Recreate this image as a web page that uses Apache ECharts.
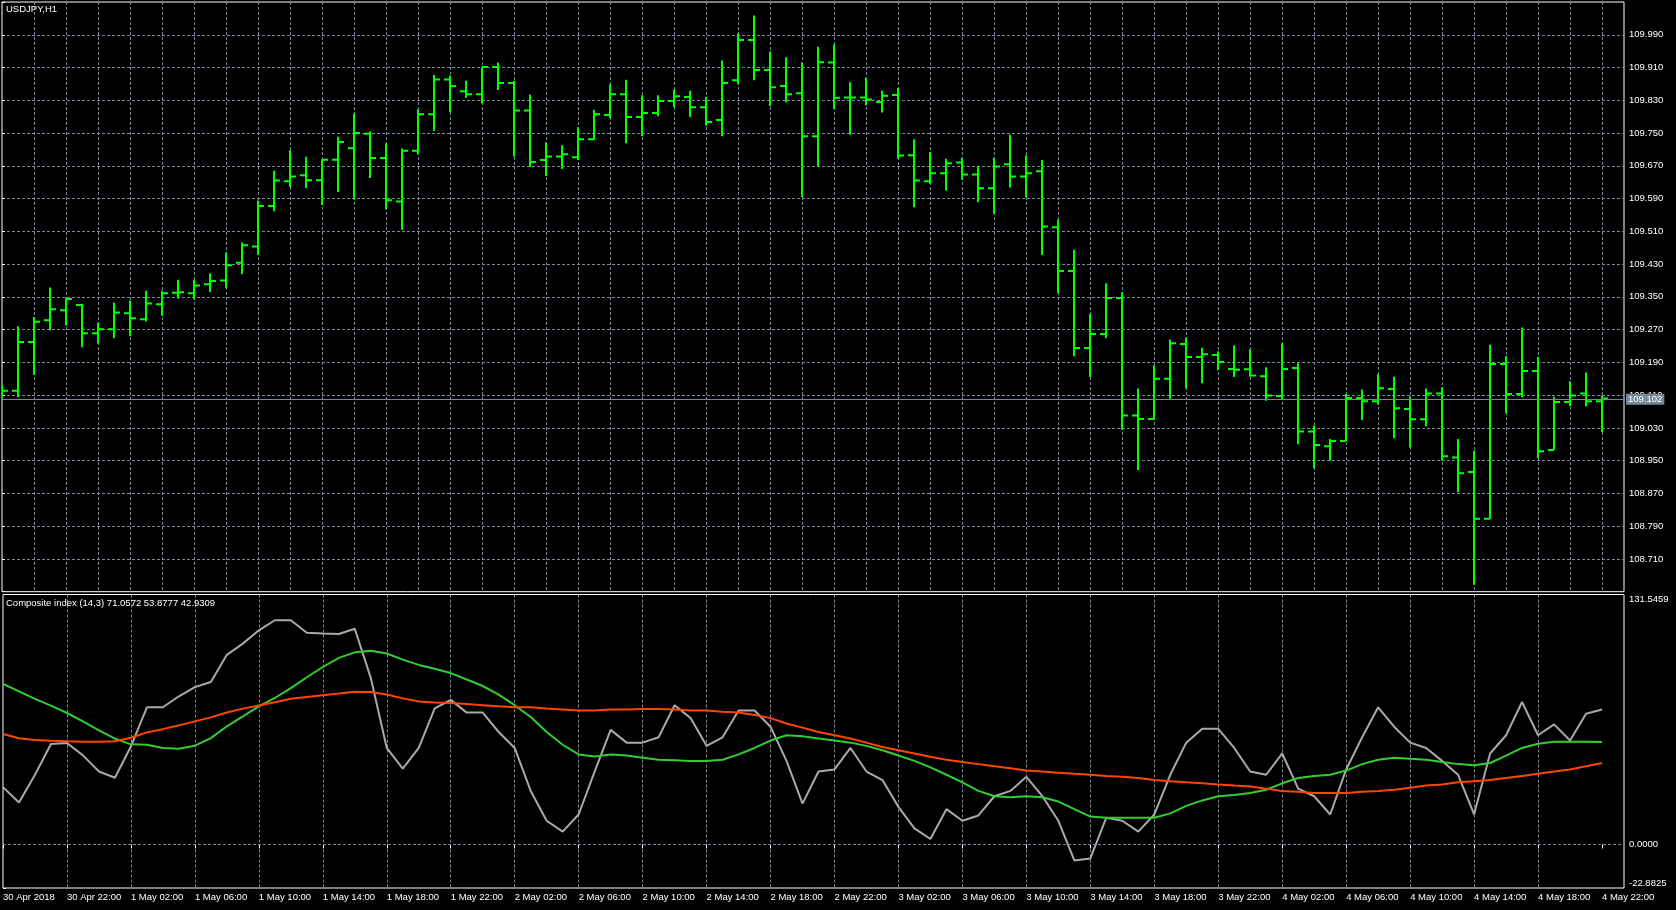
<!DOCTYPE html>
<html>
<head>
<meta charset="utf-8">
<script src="https://cdn.jsdelivr.net/npm/echarts@6/dist/echarts.min.js"></script>
<style>
html,body{margin:0;padding:0;background:#000;}
#c{width:1676px;height:910px;}
</style>
</head>
<body>
<div id="c"></div>
<script>
// ---------- DATA (USDJPY H1, one entry per hourly bar, 30 Apr 18:00 .. 4 May 22:00) ----------
const openP = [109.118,109.121,109.240,109.293,109.317,109.330,109.261,109.271,109.310,109.295,
109.332,109.360,109.359,109.381,109.390,109.433,109.473,109.572,109.632,109.647,
109.635,109.685,109.713,109.748,109.689,109.583,109.707,109.796,109.881,109.852,
109.845,109.911,109.872,109.805,109.684,109.693,109.691,109.735,109.794,109.845,
109.789,109.799,109.828,109.838,109.813,109.782,109.879,109.977,109.904,109.865,
109.847,109.742,109.922,109.837,109.837,109.826,109.843,109.696,109.632,109.652,
109.678,109.649,109.615,109.674,109.644,109.657,109.520,109.413,109.225,109.259,
109.347,109.060,109.052,109.150,109.235,109.203,109.208,109.174,109.173,109.156,
109.108,109.176,109.021,108.985,108.998,109.103,109.095,109.125,109.076,109.051,
109.114,108.958,108.922,108.808,109.186,109.113,109.169,108.976,109.093,109.114,
109.095];
const highP = [109.135,109.278,109.301,109.373,109.348,109.333,109.287,109.336,109.341,109.365,
109.365,109.392,109.392,109.407,109.458,109.483,109.585,109.658,109.708,109.692,
109.686,109.741,109.798,109.754,109.725,109.712,109.808,109.892,109.890,109.878,
109.912,109.922,109.878,109.844,109.727,109.720,109.764,109.807,109.869,109.880,
109.842,109.842,109.856,109.853,109.838,109.927,109.993,110.037,109.949,109.935,
109.922,109.961,109.966,109.874,109.885,109.853,109.860,109.735,109.704,109.687,
109.689,109.670,109.689,109.746,109.695,109.684,109.539,109.465,109.309,109.383,
109.361,109.126,109.183,109.246,109.250,109.226,109.217,109.231,109.222,109.178,
109.237,109.188,109.036,109.003,109.113,109.124,109.161,109.155,109.107,109.126,
109.129,109.003,108.974,109.233,109.205,109.275,109.204,109.106,109.144,109.165,
109.109];
const lowP = [109.105,109.105,109.160,109.268,109.280,109.227,109.236,109.249,109.254,109.290,
109.304,109.346,109.344,109.362,109.371,109.405,109.452,109.559,109.618,109.616,
109.574,109.606,109.588,109.640,109.564,109.513,109.698,109.755,109.801,109.836,
109.822,109.855,109.693,109.667,109.645,109.662,109.684,109.733,109.787,109.725,
109.742,109.791,109.813,109.789,109.768,109.742,109.869,109.879,109.816,109.825,
109.593,109.669,109.809,109.746,109.818,109.800,109.687,109.569,109.626,109.610,
109.636,109.581,109.553,109.617,109.593,109.452,109.359,109.205,109.154,109.249,
109.026,108.927,109.051,109.101,109.127,109.139,109.171,109.154,109.155,109.096,
109.100,108.990,108.932,108.950,108.998,109.049,109.087,109.005,108.982,109.034,
108.950,108.873,108.647,108.808,109.066,109.105,108.956,108.976,109.083,109.083,
109.020];
const closeP = [109.121,109.240,109.289,109.320,109.345,109.261,109.271,109.312,109.298,109.334,
109.359,109.361,109.378,109.389,109.427,109.476,109.572,109.634,109.644,109.635,
109.685,109.728,109.750,109.689,109.586,109.707,109.796,109.881,109.865,109.845,
109.911,109.872,109.805,109.679,109.693,109.698,109.735,109.796,109.845,109.789,
109.799,109.828,109.840,109.813,109.777,109.872,109.977,109.904,109.862,109.845,
109.742,109.923,109.836,109.837,109.832,109.841,109.695,109.634,109.652,109.676,
109.649,109.615,109.668,109.644,109.652,109.522,109.413,109.225,109.259,109.347,
109.060,109.052,109.150,109.237,109.203,109.210,109.191,109.172,109.158,109.109,
109.174,109.021,108.988,108.998,109.103,109.095,109.127,109.078,109.051,109.114,
108.961,108.919,108.808,109.186,109.113,109.169,108.973,109.093,109.109,109.095,
109.102];
const bidPrice = 109.102;

// Composite index (14,3): main line, fast average, slow average
const compositeIdx = [30.2,22.1,36.7,52.9,53.4,46.9,38.4,35.1,51.6,72.2,
72.2,78.0,82.8,85.5,99.8,105.7,112.7,118.0,118.0,111.4,
111.0,110.8,113.5,87.7,50.8,39.9,50.8,71.6,76.1,69.4,
69.4,59.2,50.8,28.2,12.5,6.8,15.8,38.4,60.3,53.6,
53.6,56.4,73.3,66.5,51.9,56.4,70.5,70.5,62.0,44.0,
21.5,38.4,39.5,50.8,38.4,33.9,19.8,8.5,2.9,18.6,
12.5,15.3,25.4,28.2,35.6,25.4,12.5,-8.4,-7.3,14.1,
12.5,6.8,15.8,36.7,53.6,60.9,60.9,50.8,38.4,36.7,
47.9,29.4,25.4,15.8,39.5,56.4,72.2,62.0,53.6,50.8,
44.0,36.7,15.8,47.9,57.5,75.0,57.5,63.2,54.7,68.8,
71.0572];
const fastAvg = [84.5,80.6,76.6,73.1,69.2,64.8,60.1,55.7,52.7,52.5,
50.8,50.4,52.0,56.0,62.2,67.4,72.7,77.1,82.3,88.0,
93.4,98.2,101.1,102.0,100.5,97.3,94.5,92.5,90.2,86.8,
83.4,78.9,73.3,67.1,59.2,52.5,47.4,46.3,47.4,46.8,
45.7,44.6,44.3,44.0,44.0,44.6,47.4,50.8,54.7,57.5,
57.0,55.8,54.7,53.6,51.9,49.6,46.8,44.0,40.6,36.7,
32.7,28.2,25.4,24.9,25.4,24.9,22.6,18.6,14.7,14.1,
14.1,14.1,14.1,16.4,20.3,23.2,25.4,26.0,27.1,28.8,
32.2,35.0,36.1,36.7,38.9,42.3,44.6,45.7,45.1,44.6,
43.4,42.3,41.7,42.9,46.8,50.8,53.0,54.1,54.1,54.1,
53.8777];
const slowAvg = [58.1,55.9,55.0,54.6,54.3,54.1,54.1,54.3,56.2,59.0,
60.7,62.7,64.8,66.9,69.5,71.5,73.1,74.8,76.7,77.6,
78.5,79.4,80.4,80.3,78.9,76.9,75.2,74.7,74.4,73.9,
73.3,72.7,72.2,72.2,71.6,71.1,70.5,70.5,71.1,71.1,
71.3,71.3,71.1,70.5,70.5,69.9,69.4,68.2,66.5,63.7,
61.5,59.2,57.5,55.8,53.6,51.3,49.6,47.9,46.2,44.6,
43.4,42.3,41.2,40.1,38.9,38.4,37.8,37.2,36.7,36.1,
35.6,35.0,33.9,33.3,32.7,32.2,31.6,31.0,30.5,29.4,
28.2,27.7,27.1,27.1,27.1,27.7,28.2,28.8,29.9,31.0,
31.6,32.7,33.3,33.9,35.0,36.1,37.2,38.4,39.5,41.2,
42.9309];

// Time-axis labels (every 4th bar)
const timeLabels = ['30 Apr 2018','30 Apr 22:00','1 May 02:00','1 May 06:00','1 May 10:00','1 May 14:00',
'1 May 18:00','1 May 22:00','2 May 02:00','2 May 06:00','2 May 10:00','2 May 14:00','2 May 18:00',
'2 May 22:00','3 May 02:00','3 May 06:00','3 May 10:00','3 May 14:00','3 May 18:00','3 May 22:00',
'4 May 02:00','4 May 06:00','4 May 10:00','4 May 14:00','4 May 18:00','4 May 22:00'];
const subAxisLabels = [-22.8825, 0, 131.5459];

// ---------- CHART ----------
const FONT = '"Liberation Sans", Arial, sans-serif';
const txt = {color:'#ffffff', fontFamily:FONT, fontSize:9.5};
const gridLine = {type:[3,2], color:'#778899', width:1};
const XMAX = 101.375;
const labelIdx = timeLabels.map((_, i) => i * 4);
const ohlc = closeP.map((c, i) => [i, openP[i], highP[i], lowP[i], c]);
const toXY = arr => arr.map((v, i) => [i, v]);
const lastVals = [compositeIdx, fastAvg, slowAvg].map(a => a[a.length - 1].toFixed(4)).join(' ');

const chart = echarts.init(document.getElementById('c'));
chart.setOption({
  backgroundColor:'#000000',
  animation:false,
  title:[
    {text:'USDJPY,H1', left:6, top:4, padding:0, textStyle:Object.assign({fontWeight:'normal'}, txt)},
    {text:'Composite index (14,3) ' + lastVals, left:6, top:598, padding:0, textStyle:Object.assign({fontWeight:'normal'}, txt)}
  ],
  grid:[
    {left:2, top:2, width:1622, height:589.7, show:true, borderColor:'#ffffff', borderWidth:1, backgroundColor:'transparent'},
    {left:2, top:594.5, width:1622, height:293.5, show:true, borderColor:'#ffffff', borderWidth:1, backgroundColor:'transparent'}
  ],
  xAxis:[
    {type:'value', gridIndex:0, min:0, max:XMAX, interval:2,
     axisLine:{show:false}, axisTick:{show:false}, axisLabel:{show:false},
     splitLine:{show:true, lineStyle:gridLine, showMinLine:false, showMaxLine:false}},
    {type:'value', gridIndex:1, min:0, max:XMAX, interval:2,
     axisLine:{show:false},
     axisTick:{show:true, customValues:labelIdx, length:4, lineStyle:{color:'#ffffff'}},
     axisLabel:Object.assign({customValues:labelIdx, align:'left', margin:4,
       formatter:v => timeLabels[Math.round(v / 4)] || ''}, txt),
     splitLine:{show:true, lineStyle:gridLine, showMinLine:false, showMaxLine:false}}
  ],
  yAxis:[
    {type:'value', gridIndex:0, position:'right', min:108.63, max:110.07, interval:0.08,
     axisLine:{show:false},
     axisTick:{show:true, length:3, lineStyle:{color:'#ffffff'}},
     axisLabel:Object.assign({margin:5,
       formatter:v => (v > 108.7 && v < 110.0) ? v.toFixed(3) : ''}, txt),
     splitLine:{show:true, lineStyle:gridLine, showMinLine:false, showMaxLine:false}},
    {type:'value', gridIndex:1, position:'right', min:-22.8825, max:131.5459,
     axisLine:{show:false},
     axisTick:{show:true, customValues:subAxisLabels, length:3, lineStyle:{color:'#ffffff'}},
     axisLabel:Object.assign({customValues:subAxisLabels, margin:5,
       verticalAlignMinLabel:'bottom', verticalAlignMaxLabel:'top',
       formatter:v => v.toFixed(4)}, txt),
     splitLine:{show:false}}
  ],
  series:[
    {type:'custom', name:'USDJPY', xAxisIndex:0, yAxisIndex:0, clip:true, data:ohlc,
     encode:{x:0, y:[1,2,3,4]},
     renderItem:(params, api) => {
       const x = api.value(0);
       const o = api.coord([x, api.value(1)]);
       const h = api.coord([x, api.value(2)]);
       const l = api.coord([x, api.value(3)]);
       const c = api.coord([x, api.value(4)]);
       const st = {stroke:'#00ff00', lineWidth:2};
       return {type:'group', children:[
         {type:'line', shape:{x1:h[0], y1:h[1], x2:l[0], y2:l[1]}, style:st},
         {type:'line', shape:{x1:o[0]-6, y1:o[1], x2:o[0], y2:o[1]}, style:st},
         {type:'line', shape:{x1:c[0], y1:c[1], x2:c[0]+6, y2:c[1]}, style:st}
       ]};
     },
     markLine:{symbol:'none', silent:true, animation:false,
       lineStyle:{color:'#778899', type:'solid', width:1},
       label:Object.assign({show:true, position:'end', distance:2, formatter:bidPrice.toFixed(3),
         backgroundColor:'#778899', padding:[1,2,0,2]}, txt),
       data:[{yAxis:bidPrice}]}
    },
    {type:'line', name:'Composite', xAxisIndex:1, yAxisIndex:1, data:toXY(compositeIdx),
     showSymbol:false, clip:true, lineStyle:{color:'#a9a9a9', width:2}, itemStyle:{color:'#a9a9a9'},
     markLine:{symbol:'none', silent:true, animation:false, label:{show:false},
       lineStyle:gridLine, data:[{yAxis:0}]}},
    {type:'line', name:'Fast', xAxisIndex:1, yAxisIndex:1, data:toXY(fastAvg),
     showSymbol:false, clip:true, lineStyle:{color:'#32cd32', width:2}, itemStyle:{color:'#32cd32'}},
    {type:'line', name:'Slow', xAxisIndex:1, yAxisIndex:1, data:toXY(slowAvg),
     showSymbol:false, clip:true, lineStyle:{color:'#ff4500', width:2}, itemStyle:{color:'#ff4500'}}
  ]
});
</script>
</body>
</html>
